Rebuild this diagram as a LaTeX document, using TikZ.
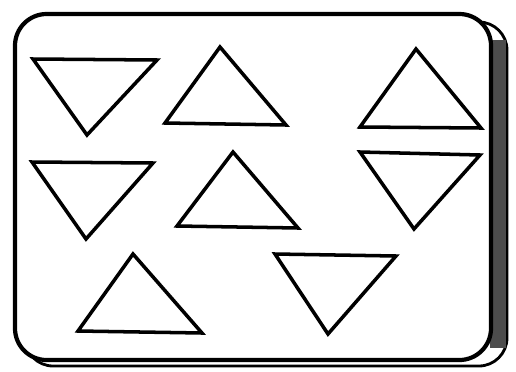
\documentclass[tikz,border=0pt]{standalone}
\usepackage{tikz}

\begin{document}
\begin{tikzpicture}[
  x=0.2mm, y=-0.2mm,
  frame/.style={draw, line width=2.4pt, rounded corners=18, fill=white},
  back/.style={draw, line width=1.6pt, rounded corners=16},
  tri/.style={draw, line width=2pt, line join=miter},
]
  \useasboundingbox (0, 0) rectangle (516, 371);

  % back edge of the card (right and bottom)
  \draw[back] (25, 22) rectangle (507, 366);
  \fill[black!70] (490, 40) rectangle (506, 348);

  % card
  \draw[frame] (15, 14) rectangle (491, 360);

  % top row
  \draw[tri] (33, 59) -- (157, 60) -- (87, 135) -- cycle;
  \draw[tri] (220, 47) -- (286, 125) -- (165, 123) -- cycle;
  \draw[tri] (416, 49) -- (481, 128) -- (360, 127) -- cycle;

  % middle row
  \draw[tri] (32, 162) -- (153, 163) -- (86, 239) -- cycle;
  \draw[tri] (233, 152) -- (298, 228) -- (177, 226) -- cycle;
  \draw[tri] (360, 152) -- (480, 155) -- (414, 229) -- cycle;

  % bottom row
  \draw[tri] (133, 254) -- (202, 333) -- (78, 331) -- cycle;
  \draw[tri] (275, 254) -- (396, 256) -- (328, 334) -- cycle;
\end{tikzpicture}
\end{document}
